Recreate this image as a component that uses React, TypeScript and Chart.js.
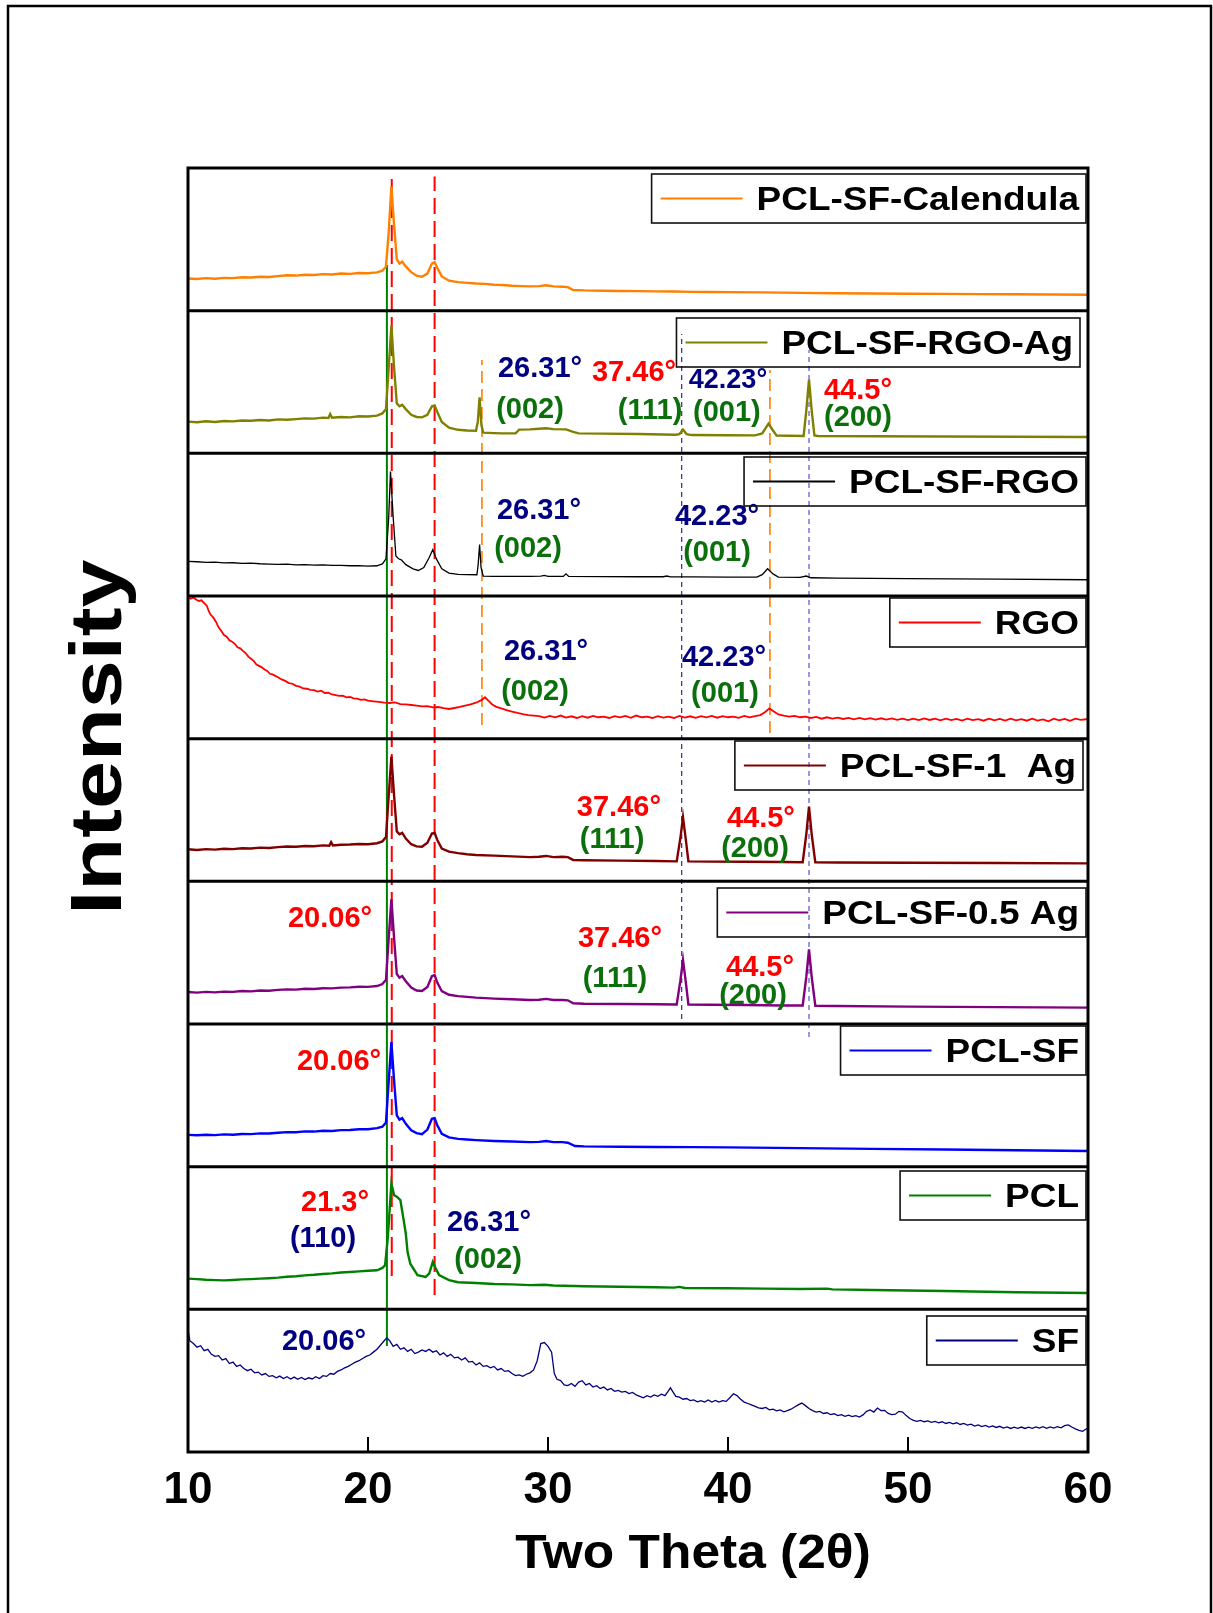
import React, { useEffect, useRef } from "react";
import { Chart, registerables } from "chart.js";
Chart.register(...registerables);

// ---------- data ----------
const thetaTicks = [10, 20, 30, 40, 50, 60];

const seriesNames = [
  "PCL-SF-Calendula",
  "PCL-SF-RGO-Ag",
  "PCL-SF-RGO",
  "RGO",
  "PCL-SF-1  Ag",
  "PCL-SF-0.5 Ag",
  "PCL-SF",
  "PCL",
  "SF",
];

// [2θ, relative intensity within its own panel]
const calendula: number[][] = [
  [10, .226], [10.5, .222], [11, .228], [11.5, .224], [12, .23], [12.5, .228], [13, .234], [13.5, .232], [14, .238], [14.5, .236],
  [15, .242], [15.5, .248], [16, .246], [16.5, .252], [17, .25], [17.5, .256], [18, .254], [18.5, .26], [19, .258], [19.5, .264],
  [20, .262], [20.5, .268], [20.8, .28], [21.0, .31], [21.15, .55], [21.3, .869], [21.45, .6], [21.6, .36], [21.75, .33], [21.9, .343],
  [22.1, .31], [22.4, .27], [22.7, .245], [23.0, .238], [23.3, .26], [23.55, .33], [23.7, .34], [23.85, .3], [24.1, .24], [24.5, .21],
  [25, .2], [25.5, .195], [26, .19], [26.5, .188], [27, .182], [27.5, .18], [28, .175], [28.5, .172], [29, .17], [29.5, .172],
  [29.9, .178], [30.3, .17], [30.8, .168], [31.1, .165], [31.4, .145], [32, .142], [33, .14], [34, .138], [35, .137], [36, .135],
  [37, .134], [38, .132], [39, .131], [40, .13], [42, .128], [44, .125], [46, .122], [48, .12], [50, .119], [52, .118],
  [54, .116], [56, .115], [58, .113], [60, .112],
];

const rgoAg: number[][] = [
  [10, .222], [10.5, .218], [11, .225], [11.5, .22], [12, .227], [12.5, .224], [13, .23], [13.5, .228], [14, .234], [14.5, .23],
  [15, .238], [15.5, .235], [16, .24], [16.5, .245], [17, .243], [17.5, .25], [17.8, .248], [17.9, .275], [18.0, .25], [18.5, .255],
  [19, .252], [19.5, .26], [20, .258], [20.5, .264], [20.8, .28], [21.0, .31], [21.15, .6], [21.3, .895], [21.45, .6], [21.6, .35],
  [21.75, .33], [21.9, .34], [22.1, .31], [22.4, .27], [22.7, .255], [23.0, .252], [23.3, .27], [23.55, .33], [23.7, .335], [23.85, .29],
  [24.1, .22], [24.5, .18], [25, .165], [25.5, .16], [26.0, .158], [26.1, .22], [26.2, .393], [26.3, .2], [26.4, .145], [27, .142],
  [27.5, .14], [28.2, .14], [28.4, .166], [29, .168], [29.5, .172], [29.9, .176], [30.3, .17], [31, .168], [31.4, .15], [31.7, .14],
  [33, .138], [35, .135], [37.1, .13], [37.3, .135], [37.5, .166], [37.7, .135], [38, .128], [40, .127], [41.5, .126], [41.9, .14],
  [42.25, .208], [42.5, .16], [42.7, .124], [43.5, .123], [44.2, .122], [44.35, .3], [44.5, .516], [44.65, .3], [44.8, .125], [45, .122],
  [48, .12], [52, .118], [56, .116], [60, .115],
];

const pclSfRgo: number[][] = [
  [10, .243], [10.5, .24], [11, .236], [11.5, .238], [12, .232], [12.5, .233], [13, .228], [13.5, .23], [14, .226], [14.5, .224],
  [15, .222], [15.5, .223], [16, .218], [16.5, .22], [17, .216], [17.5, .218], [18, .214], [18.5, .215], [19, .212], [19.5, .213],
  [20, .21], [20.5, .212], [20.8, .225], [21.0, .261], [21.15, .55], [21.25, .873], [21.4, .55], [21.55, .28], [21.7, .261], [21.85, .253],
  [22.1, .22], [22.5, .19], [22.8, .179], [23.1, .2], [23.4, .27], [23.6, .325], [23.8, .26], [24.1, .19], [24.5, .16], [25, .152],
  [25.5, .15], [26.05, .149], [26.12, .22], [26.2, .36], [26.28, .2], [26.4, .14], [27, .138], [28, .137], [29, .137], [29.6, .14],
  [29.8, .145], [30, .137], [30.85, .137], [31, .155], [31.15, .137], [33, .136], [35, .135], [36.4, .135], [36.6, .14], [36.8, .134],
  [38, .134], [40, .133], [41.6, .133], [41.9, .15], [42.2, .191], [42.5, .155], [42.8, .133], [44, .13], [44.35, .14], [44.6, .128],
  [46, .125], [50, .122], [55, .118], [60, .114],
];

const rgo: number[][] = [
  [10, .99], [10.15, .98], [10.3, .99], [10.45, .975], [10.6, .965], [10.75, .97], [10.9, .95], [11.05, .93], [11.15, .895], [11.25, .87],
  [11.4, .85], [11.55, .82], [11.7, .78], [11.85, .755], [12, .726], [12.15, .715], [12.3, .69], [12.45, .68], [12.6, .665], [12.75, .64],
  [12.9, .633], [13.05, .615], [13.2, .6], [13.35, .575], [13.5, .56], [13.65, .545], [13.8, .52], [13.95, .51], [14.1, .5], [14.25, .485],
  [14.4, .475], [14.55, .455], [14.7, .45], [14.85, .44], [15, .43], [15.2, .415], [15.4, .405], [15.6, .39], [15.8, .385], [16, .37],
  [16.2, .365], [16.4, .352], [16.6, .35], [16.8, .342], [17, .34], [17.2, .33], [17.4, .336], [17.6, .32], [17.8, .322], [18, .31],
  [18.2, .305], [18.4, .3], [18.6, .302], [18.8, .29], [19, .292], [19.2, .282], [19.4, .28], [19.6, .272], [19.8, .275], [20, .266],
  [20.3, .262], [20.6, .258], [20.9, .252], [21.2, .25], [21.5, .254], [21.8, .242], [22.1, .24], [22.4, .236], [22.7, .232], [23, .226],
  [23.3, .228], [23.6, .22], [23.9, .222], [24.2, .214], [24.5, .208], [24.8, .215], [25.1, .222], [25.4, .232], [25.7, .24], [26, .252],
  [26.3, .27], [26.5, .29], [26.7, .265], [26.9, .24], [27.1, .225], [27.4, .212], [27.7, .2], [28, .19], [28.3, .18], [28.6, .172],
  [28.9, .165], [29.2, .162], [29.5, .158], [29.8, .148], [30.1, .16], [30.4, .15], [30.7, .162], [31, .148], [31.3, .157], [31.6, .145],
  [31.9, .158], [32.2, .147], [32.5, .16], [32.8, .15], [33.1, .155], [33.4, .145], [33.7, .158], [34, .15], [34.3, .16], [34.6, .146],
  [34.9, .162], [35.2, .15], [35.5, .155], [35.8, .145], [36.1, .158], [36.4, .148], [36.7, .155], [37, .145], [37.3, .16], [37.6, .148],
  [37.9, .157], [38.2, .146], [38.5, .158], [38.8, .15], [39.1, .16], [39.4, .147], [39.7, .158], [40, .15], [40.3, .155], [40.6, .146],
  [40.9, .16], [41.2, .15], [41.5, .158], [41.8, .165], [42.05, .185], [42.3, .212], [42.55, .19], [42.8, .17], [43.1, .162], [43.4, .155],
  [43.7, .16], [44, .15], [44.3, .155], [44.6, .145], [44.9, .152], [45.2, .14], [45.5, .15], [45.8, .14], [46.1, .148], [46.4, .138],
  [46.7, .146], [47, .136], [47.3, .145], [47.6, .135], [47.9, .144], [48.2, .134], [48.5, .143], [48.8, .133], [49.1, .142], [49.4, .132],
  [49.7, .14], [50, .13], [50.3, .14], [50.6, .13], [50.9, .142], [51.2, .131], [51.5, .14], [51.8, .128], [52.1, .14], [52.4, .13],
  [52.7, .138], [53, .127], [53.3, .14], [53.6, .13], [53.9, .137], [54.2, .126], [54.5, .14], [54.8, .128], [55.1, .138], [55.4, .127],
  [55.7, .14], [56, .128], [56.3, .137], [56.6, .126], [56.9, .14], [57.2, .127], [57.5, .135], [57.8, .122], [58.1, .14], [58.4, .128],
  [58.7, .138], [59, .125], [59.3, .14], [59.6, .132], [60, .138],
];

const pclSf1Ag: number[][] = [
  [10, .225], [10.5, .22], [11, .226], [11.5, .222], [12, .228], [12.5, .226], [13, .232], [13.5, .23], [14, .236], [14.5, .234],
  [15, .24], [15.5, .244], [16, .242], [16.5, .248], [17, .246], [17.5, .252], [17.85, .25], [17.95, .275], [18.05, .252], [18.5, .256],
  [19, .258], [19.5, .262], [20, .26], [20.5, .267], [20.8, .28], [21.0, .31], [21.15, .6], [21.3, .875], [21.45, .6], [21.6, .35],
  [21.75, .33], [21.9, .34], [22.1, .3], [22.4, .26], [22.7, .245], [23.0, .243], [23.3, .27], [23.55, .335], [23.7, .34], [23.85, .29],
  [24.1, .23], [24.5, .208], [25, .198], [25.5, .19], [26, .185], [27, .18], [28, .175], [29, .17], [29.5, .172], [29.9, .178],
  [30.3, .17], [30.8, .172], [31.1, .17], [31.4, .15], [32, .148], [34, .145], [36, .142], [37.15, .14], [37.35, .3], [37.5, .449],
  [37.65, .3], [37.8, .14], [39, .138], [41, .137], [43, .135], [44.15, .134], [44.35, .33], [44.5, .524], [44.65, .33], [44.85, .133],
  [46, .132], [50, .13], [55, .128], [60, .126],
];

const pclSf05Ag: number[][] = [
  [10, .224], [10.5, .22], [11, .225], [11.5, .222], [12, .227], [12.5, .225], [13, .231], [13.5, .229], [14, .235], [14.5, .233],
  [15, .239], [15.5, .243], [16, .241], [16.5, .247], [17, .245], [17.5, .251], [18, .25], [18.5, .255], [19, .257], [19.5, .261],
  [20, .26], [20.5, .266], [20.8, .28], [21.0, .31], [21.15, .6], [21.3, .874], [21.45, .6], [21.6, .35], [21.75, .325], [21.9, .336],
  [22.1, .3], [22.4, .255], [22.7, .235], [23.0, .231], [23.3, .26], [23.55, .335], [23.7, .343], [23.85, .29], [24.1, .23], [24.5, .205],
  [25, .195], [25.5, .19], [26, .185], [27, .178], [28, .173], [29, .168], [29.5, .17], [29.9, .176], [30.3, .168], [30.8, .168],
  [31.1, .166], [31.4, .145], [32, .142], [34, .14], [36, .138], [37.15, .137], [37.35, .3], [37.5, .449], [37.65, .3], [37.8, .137],
  [39, .135], [41, .133], [43, .13], [44.15, .13], [44.35, .33], [44.5, .524], [44.65, .33], [44.85, .128], [46, .126], [50, .122],
  [55, .118], [60, .115],
];

const pclSf: number[][] = [
  [10, .223], [10.5, .22], [11, .224], [11.5, .221], [12, .226], [12.5, .224], [13, .229], [13.5, .228], [14, .233], [14.5, .232],
  [15, .238], [15.5, .242], [16, .241], [16.5, .247], [17, .246], [17.5, .252], [18, .25], [18.5, .256], [19, .257], [19.5, .262],
  [20, .262], [20.5, .27], [20.8, .28], [21.0, .31], [21.15, .6], [21.3, .874], [21.45, .6], [21.6, .36], [21.75, .33], [21.9, .34],
  [22.1, .3], [22.4, .255], [22.7, .235], [23.0, .228], [23.3, .26], [23.55, .335], [23.7, .34], [23.85, .29], [24.1, .23], [24.5, .205],
  [25, .195], [25.5, .19], [26, .186], [27, .18], [28, .176], [29, .172], [29.5, .174], [29.9, .18], [30.3, .172], [30.8, .172],
  [31.1, .168], [31.5, .145], [32, .142], [34, .14], [36, .138], [38, .137], [40, .135], [44, .13], [48, .125], [52, .12],
  [56, .115], [60, .11],
];

const pcl: number[][] = [
  [10, .215], [10.5, .212], [11, .207], [11.5, .205], [12, .203], [12.5, .206], [13, .21], [13.5, .212], [14, .215], [14.5, .218],
  [15, .222], [15.5, .228], [16, .232], [16.5, .238], [17, .242], [17.5, .248], [18, .252], [18.5, .258], [19, .262], [19.5, .266],
  [20, .27], [20.5, .274], [20.8, .29], [20.95, .31], [21.1, .5], [21.2, .695], [21.3, .882], [21.45, .8], [21.6, .79], [21.8, .765],
  [21.95, .65], [22.1, .531], [22.2, .4], [22.35, .32], [22.75, .24], [23.2, .227], [23.4, .25], [23.6, .332], [23.75, .29], [23.95, .24],
  [24.5, .205], [25, .19], [26, .185], [27, .178], [28, .175], [29, .17], [29.8, .172], [30.3, .167], [32, .162], [34, .158],
  [36, .155], [37, .152], [37.3, .157], [37.6, .15], [40, .148], [42, .145], [44, .142], [45.5, .145], [45.8, .14], [48, .135],
  [52, .128], [56, .12], [60, .114],
];

const sf: number[][] = [
  [10.0, .857], [10.1, .78], [10.3, .76], [10.5, .735], [10.7, .745], [10.9, .71], [11.1, .72], [11.3, .685], [11.5, .67], [11.7, .675],
  [11.9, .645], [12.1, .655], [12.3, .62], [12.5, .63], [12.7, .6], [12.9, .61], [13.1, .585], [13.3, .57], [13.5, .58], [13.7, .555],
  [13.9, .56], [14.1, .54], [14.3, .55], [14.5, .53], [14.7, .535], [14.9, .52], [15.1, .532], [15.3, .515], [15.5, .528], [15.7, .512],
  [15.9, .525], [16.1, .51], [16.3, .522], [16.5, .508], [16.7, .52], [16.9, .512], [17.1, .528], [17.3, .515], [17.5, .535], [17.7, .53],
  [17.9, .55], [18.1, .545], [18.3, .565], [18.5, .575], [18.7, .59], [18.9, .6], [19.1, .615], [19.3, .63], [19.5, .64], [19.7, .655],
  [19.9, .67], [20.1, .68], [20.3, .7], [20.5, .72], [20.7, .75], [20.9, .78], [21.05, .8], [21.2, .78], [21.4, .74], [21.6, .755],
  [21.8, .72], [22.0, .73], [22.2, .705], [22.4, .72], [22.6, .69], [22.8, .7], [23.0, .715], [23.2, .705], [23.4, .72], [23.6, .7],
  [23.8, .71], [24.0, .68], [24.2, .695], [24.4, .67], [24.6, .685], [24.8, .66], [25.0, .665], [25.2, .645], [25.4, .66], [25.6, .63],
  [25.8, .635], [26.0, .61], [26.2, .625], [26.4, .6], [26.6, .605], [26.8, .59], [27.0, .6], [27.2, .575], [27.4, .585], [27.6, .565],
  [27.8, .57], [28.0, .55], [28.2, .535], [28.4, .54], [28.6, .53], [28.8, .545], [29.0, .555], [29.2, .575], [29.4, .64], [29.6, .76],
  [29.8, .767], [30.0, .74], [30.2, .7], [30.35, .55], [30.5, .51], [30.7, .5], [30.9, .47], [31.1, .465], [31.3, .48], [31.5, .46],
  [31.7, .49], [31.9, .5], [32.1, .47], [32.3, .48], [32.5, .455], [32.7, .465], [32.9, .445], [33.1, .455], [33.3, .435], [33.5, .445],
  [33.7, .425], [33.9, .432], [34.1, .42], [34.3, .425], [34.5, .41], [34.7, .418], [34.9, .4], [35.1, .39], [35.3, .38], [35.5, .395],
  [35.7, .385], [35.9, .4], [36.1, .39], [36.3, .405], [36.5, .395], [36.7, .43], [36.8, .45], [36.95, .42], [37.1, .39], [37.3, .385],
  [37.5, .37], [37.7, .375], [37.9, .36], [38.1, .365], [38.3, .352], [38.5, .36], [38.7, .35], [38.9, .365], [39.1, .35], [39.3, .362],
  [39.5, .35], [39.7, .36], [39.9, .355], [40.1, .38], [40.3, .408], [40.5, .395], [40.7, .37], [40.9, .35], [41.1, .34], [41.3, .33],
  [41.5, .32], [41.7, .31], [41.9, .305], [42.1, .312], [42.3, .295], [42.5, .3], [42.7, .288], [42.9, .295], [43.1, .282], [43.3, .29],
  [43.5, .3], [43.7, .315], [43.9, .33], [44.1, .343], [44.3, .325], [44.5, .305], [44.7, .29], [44.9, .28], [45.1, .285], [45.3, .27],
  [45.5, .275], [45.7, .262], [45.9, .268], [46.1, .255], [46.3, .262], [46.5, .25], [46.7, .258], [46.9, .248], [47.1, .255], [47.3, .245],
  [47.5, .26], [47.7, .285], [47.9, .295], [48.1, .28], [48.3, .308], [48.5, .29], [48.7, .292], [48.9, .27], [49.1, .262], [49.3, .265],
  [49.5, .285], [49.7, .28], [49.9, .255], [50.1, .235], [50.3, .222], [50.5, .215], [50.7, .222], [50.9, .212], [51.1, .218], [51.3, .208],
  [51.5, .215], [51.7, .205], [51.9, .212], [52.1, .2], [52.3, .208], [52.5, .198], [52.7, .205], [52.9, .193], [53.1, .2], [53.3, .188],
  [53.5, .195], [53.7, .182], [53.9, .19], [54.1, .178], [54.3, .186], [54.5, .175], [54.7, .183], [54.9, .172], [55.1, .18], [55.3, .168],
  [55.5, .176], [55.7, .165], [55.9, .174], [56.1, .166], [56.3, .175], [56.5, .165], [56.7, .174], [56.9, .166], [57.1, .176], [57.3, .167],
  [57.5, .177], [57.7, .166], [57.9, .176], [58.1, .168], [58.3, .178], [58.5, .17], [58.7, .185], [58.9, .19], [59.1, .175], [59.3, .162],
  [59.5, .152], [59.7, .145], [59.85, .158], [60.0, .168],
];

const seriesData = [calendula, rgoAg, pclSfRgo, rgo, pclSf1Ag, pclSf05Ag, pclSf, pcl, sf];

// reference peak positions (2θ) and the stacked span (panel units) they cover
const refTheta = [21.05, 21.32, 23.7, 26.33, 42.33, 37.43, 44.5];
const refFrom = [0.743, 1.234, 1.1, 5.096, 5.04, 3.035, 2.909];
const refTo = [8.32, 8.95, 8.94, 7.654, 7.584, 7.836, 7.724];

// peak labels: text, 2θ position, stacked y position
const labelText = [
  "26.31°", "37.46°", "42.23°", "(002)", "(111)", "(001)", "44.5°", "(200)",
  "26.31°", "(002)", "42.23°", "(001)",
  "26.31°", "(002)", "42.23°", "(001)",
  "37.46°", "(111)", "44.5°", "(200)",
  "20.06°", "37.46°", "(111)", "44.5°", "(200)",
  "20.06°",
  "21.3°", "(110)", "26.31°", "(002)",
  "20.06°",
];
const labelTheta = [
  29.56, 34.78, 40.0, 29.0, 35.67, 39.94, 47.22, 47.22,
  29.5, 28.89, 39.39, 39.39,
  29.89, 29.28, 39.78, 39.83,
  33.94, 33.56, 41.83, 41.5,
  17.89, 34.0, 33.72, 41.78, 41.39,
  18.39,
  18.17, 17.5, 26.72, 26.67,
  17.56,
];
const labelY = [
  7.605, 7.577, 7.521, 7.318, 7.31, 7.297, 7.45, 7.262,
  6.61, 6.343, 6.568, 6.315,
  5.621, 5.341, 5.579, 5.327,
  4.528, 4.304, 4.451, 4.24,
  3.75, 3.61, 3.329, 3.406, 3.21,
  2.748,
  1.759, 1.507, 1.619, 1.36,
  0.785,
];

// ---------- styles ----------
const RED = "#ff0000";
const NAVY = "#000080";
const GREEN = "#0b700b";
const labelColor = [
  NAVY, RED, NAVY, GREEN, GREEN, GREEN, RED, GREEN,
  NAVY, GREEN, NAVY, GREEN,
  NAVY, GREEN, NAVY, GREEN,
  RED, GREEN, RED, GREEN,
  RED, RED, GREEN, RED, GREEN,
  RED,
  RED, NAVY, NAVY, GREEN,
  NAVY,
];
const seriesColors = ["#ff8000", "#808000", "#000000", "#ff0000", "#800000", "#800080", "#0000ff", "#008000", "#000080"];
const seriesWidths = [2.4, 2.4, 1.3, 1.8, 2.4, 2.4, 2.4, 2.4, 1.3];
const refColors = ["#008000", "#ff0000", "#ff0000", "#ff8000", "#ff8000", "#000080", "#3030c0"];
const refWidths = [2, 2, 2, 1.6, 1.6, 1, 1];
const refDash = [[], [16, 7], [16, 7], [12, 6], [12, 6], [5, 4], [5, 4]];
// legend box right edge / top (px)
const legendRight = [1086, 1080, 1086, 1086, 1083, 1086, 1086, 1086, 1086];
const legendTop = [174, 318, 457, 598, 741, 888, 1026, 1171, 1316];
const LEGEND_STRETCH = 1.12;

const FONT = '"Liberation Sans", Arial, Helvetica, sans-serif';
const PANELS = 9;

const decorPlugin = {
  id: "decor",
  afterDatasetsDraw(chart: any) {
    const { ctx, chartArea: a, scales } = chart;
    const x = scales.x;
    const y = scales.y;
    ctx.save();
    ctx.setLineDash([]);
    // panel separators and frame
    ctx.strokeStyle = "#000";
    ctx.lineWidth = 3;
    for (let k = 1; k < PANELS; k++) {
      const py = y.getPixelForValue(k);
      ctx.beginPath();
      ctx.moveTo(a.left, py);
      ctx.lineTo(a.right, py);
      ctx.stroke();
    }
    ctx.strokeRect(a.left, a.top, a.right - a.left, a.bottom - a.top);
    // inward ticks
    ctx.lineWidth = 2;
    thetaTicks.forEach((t) => {
      const px = x.getPixelForValue(t);
      ctx.beginPath();
      ctx.moveTo(px, a.bottom);
      ctx.lineTo(px, a.bottom - 15);
      ctx.stroke();
    });
    // peak labels
    ctx.textAlign = "center";
    ctx.textBaseline = "alphabetic";
    labelText.forEach((t, i) => {
      const size = t === "42.23°" && labelY[i] > 7 ? 27 : 29;
      ctx.font = `bold ${size}px ${FONT}`;
      ctx.fillStyle = labelColor[i];
      ctx.fillText(t, x.getPixelForValue(labelTheta[i]), y.getPixelForValue(labelY[i]) + 0.34 * size);
    });
    // legends, one per panel
    ctx.font = `bold 33px ${FONT}`;
    ctx.textAlign = "left";
    chart.data.datasets.slice(0, PANELS).forEach((ds: any, i: number) => {
      const tw = ctx.measureText(ds.label).width * LEGEND_STRETCH;
      const w = 9 + 82 + 14 + tw + 7;
      const h = 49;
      const left = legendRight[i] - w;
      const top = legendTop[i];
      ctx.lineWidth = 1.6;
      ctx.strokeStyle = "#111";
      ctx.strokeRect(left, top, w, h);
      const ly = top + h / 2;
      ctx.strokeStyle = ds.borderColor;
      ctx.lineWidth = 2;
      ctx.beginPath();
      ctx.moveTo(left + 9, ly);
      ctx.lineTo(left + 91, ly);
      ctx.stroke();
      ctx.fillStyle = "#000";
      ctx.save();
      ctx.translate(left + 105, ly + 0.36 * 33);
      ctx.scale(LEGEND_STRETCH, 1);
      ctx.fillText(ds.label, 0, 0);
      ctx.restore();
    });
    // axis titles
    ctx.fillStyle = "#000";
    ctx.textAlign = "center";
    ctx.save();
    ctx.translate(693, 1568);
    ctx.scale(1.05, 1);
    ctx.font = `bold 49px ${FONT}`;
    ctx.fillText("Two Theta (2θ)", 0, 0);
    ctx.restore();
    ctx.save();
    ctx.translate(121, 737);
    ctx.rotate(-Math.PI / 2);
    ctx.scale(1.2, 1);
    ctx.font = `bold 72px ${FONT}`;
    ctx.fillText("Intensity", 0, 0);
    ctx.restore();
    // outer frame
    ctx.strokeStyle = "#000";
    ctx.lineWidth = 2.5;
    ctx.strokeRect(8, 6, 1203, 1700);
    ctx.restore();
  },
};

export default function App() {
  const ref = useRef<HTMLCanvasElement>(null);
  useEffect(() => {
    const canvas = ref.current;
    if (!canvas) return;
    const traceSets = seriesData.map((pts, i) => ({
      label: seriesNames[i],
      data: pts.map((p) => ({ x: p[0], y: PANELS - 1 - i + p[1] })),
      borderColor: seriesColors[i],
      backgroundColor: seriesColors[i],
      borderWidth: seriesWidths[i],
      showLine: true,
      pointRadius: 0,
      tension: 0,
      fill: false,
    }));
    const refSets = refTheta.map((t, i) => ({
      label: "ref" + i,
      data: [
        { x: t, y: refFrom[i] },
        { x: t, y: refTo[i] },
      ],
      borderColor: refColors[i],
      backgroundColor: refColors[i],
      borderWidth: refWidths[i],
      borderDash: refDash[i],
      showLine: true,
      pointRadius: 0,
      fill: false,
    }));
    const chart = new Chart(canvas, {
      type: "scatter",
      data: { datasets: [...traceSets, ...refSets] as any },
      options: {
        animation: false,
        responsive: false,
        events: [],
        layout: { padding: { left: 188, right: 125, top: 168, bottom: 0 } },
        plugins: { legend: { display: false }, tooltip: { enabled: false } },
        scales: {
          x: {
            type: "linear",
            min: 10,
            max: 60,
            afterFit: (s: any) => {
              s.height = 161;
            },
            ticks: {
              stepSize: 10,
              padding: 12,
              color: "#000",
              font: { family: FONT, size: 44, weight: "bold" },
            },
            grid: { display: false, drawTicks: false },
            border: { display: false },
          },
          y: { type: "linear", min: 0, max: PANELS, display: false },
        },
      } as any,
      plugins: [decorPlugin],
    });
    return () => chart.destroy();
  }, []);
  return (
    <div style={{ position: "absolute", left: 0, top: 0, width: 1213, height: 1613, background: "#fff" }}>
      <canvas ref={ref} width={1213} height={1613} style={{ display: "block", width: 1213, height: 1613 }} />
    </div>
  );
}
